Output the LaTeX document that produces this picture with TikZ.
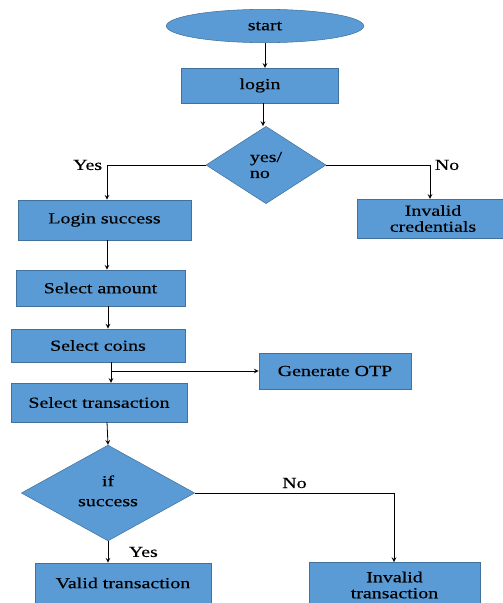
\documentclass[tikz,border=0pt]{standalone}
\usepackage{fontspec}
\setmainfont[FakeStretch=1.3,FakeBold=0.4]{Liberation Serif}
\usetikzlibrary{positioning, shapes.geometric}
\usetikzlibrary{calc}
\definecolor{boxblue}{RGB}{91,155,213}
\definecolor{boxline}{RGB}{65,113,156}
\tikzstyle{startstop} = [ellipse, minimum width=148pt, minimum height=25pt, inner sep=0pt, text centered, draw=boxline, fill=boxblue]
\tikzstyle{process} = [rectangle, minimum height=27pt, inner sep=0pt, draw=boxline, fill=boxblue, align=center]
\tikzstyle{decision} = [diamond, inner sep=0pt, draw=boxline, fill=boxblue, align=center]
\tikzstyle{arrow} = [semithick,->,>=stealth]
\tikzstyle{every node}=[font=\fontsize{11.5}{12}\selectfont]

\begin{document}
\begin{tikzpicture}[x=0.75pt,y=-0.75pt]
  		\useasboundingbox (0,0) rectangle (503,603);
  		%flowchart shapes
  		\node (start1) [startstop] at (265,26) {start};
  		\node (login) [process, minimum width=118pt, minimum height=26pt] at (260,85.5) {login};
  		\node (dec1) [decision, minimum width=90pt, minimum height=58pt, align=left] at (266,165) {yes/\\no\hspace{1.2em}};
  		\node (ok1) [process, minimum width=130pt, minimum height=30pt] at (104.5,220) {Login success};
  		\node (bad1) [process, minimum width=114pt, minimum height=29pt] at (433,218.5) {Invalid\\credentials};
  		\node (amount) [process, minimum width=127pt, minimum height=27pt] at (100.5,288) {Select amount};
  		\node (coins) [process, minimum width=130.5pt, minimum height=25pt] at (98,345.5) {Select coins};
  		\node (otp) [process, minimum width=114pt, minimum height=27pt] at (335,371) {Generate OTP};
  		\node (trans) [process, minimum width=132pt, minimum height=29pt] at (99,402.5) {Select transaction};
  		\node (dec2) [decision, minimum width=130pt, minimum height=64.5pt] at (108,493) {\shortstack{\strut if\\ \strut success}};
  		\node (ok2) [process, minimum width=132pt, minimum height=30pt] at (123,583) {Valid transaction};
  		\node (bad2) [process, minimum width=128pt, minimum height=34pt] at (394.5,585) {Invalid\\transaction};
  		
  		%connectors
  		\draw [arrow](start1.south) -- (start1.south |- login.north);
  		\draw [arrow](263,0 |- login.south) -- (263,0 |- dec1.north);
  		\draw [arrow](dec1.west) -| node (yes1) [pos=0.5, left] {Yes} (107,0 |- ok1.north);
  		\draw [arrow](dec1.east) -| node (no1) [pos=0.5, right] {No} (430,0 |- bad1.north);
  		\draw [arrow](107,0 |- ok1.south) -- (107,0 |- amount.north);
  		\draw [arrow](108,0 |- amount.south) -- (108,0 |- coins.north);
  		\draw [arrow](111,0 |- coins.south) -- (111,0 |- trans.north);
  		\coordinate (split) at (111,0 |- otp.west);
  		\draw [arrow](split) -- (otp.west);
  		\draw [arrow](107,0 |- trans.south) -- (dec2.north);
  		\draw [arrow](dec2.south) -- node (yes2) [right=12pt] {Yes} (dec2.south |- ok2.north);
  		\draw [arrow](dec2.east) -| node (no2) [pos=0.25, above] {No} (394,0 |- bad2.north);
  	\end{tikzpicture}
\end{document}
